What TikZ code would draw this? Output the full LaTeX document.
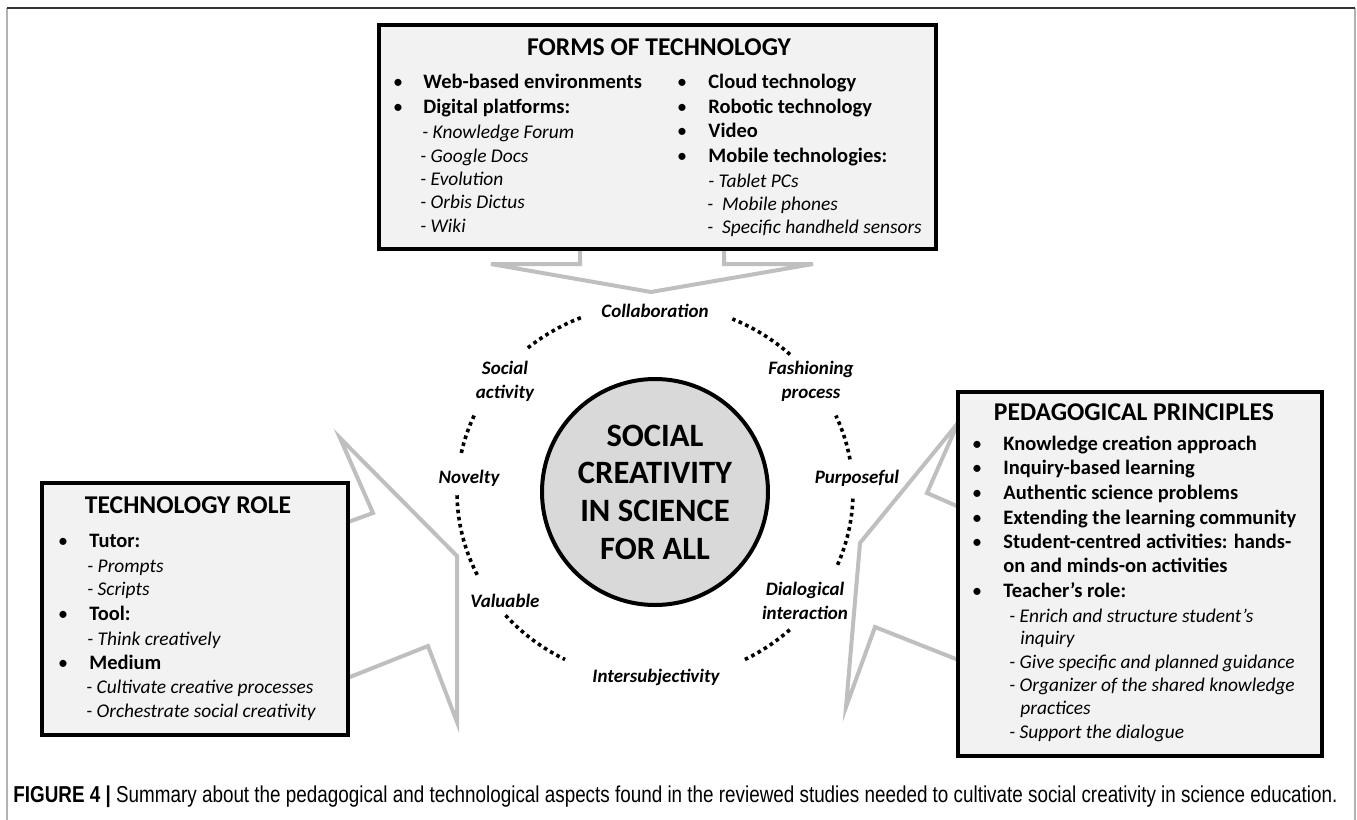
\documentclass[tikz,border=0pt]{standalone}
\usepackage{fontspec}
\setmainfont{Carlito}
\newfontfamily\capfont[FakeStretch=0.82]{Liberation Sans}
\definecolor{panelfill}{HTML}{F2F2F2}
\definecolor{hubfill}{HTML}{D9D9D9}
\definecolor{arrowgray}{HTML}{BFBFBF}
\begin{document}
\begin{tikzpicture}[x=0.5pt, y=-0.5pt,
        panel/.style={draw, line width=2pt, fill=panelfill, anchor=north west, inner sep=0pt, outer sep=0pt},
        bigarrow/.style={draw=arrowgray, line width=2pt},
        ringdots/.style={line width=1.8pt, dash pattern=on 1.8pt off 1.8pt},
        heading/.style={inner sep=0pt, font=\fontsize{12.8}{15}\selectfont\bfseries},
        item/.style={anchor=base west, inner sep=0pt, font=\fontsize{10.25}{12}\selectfont\bfseries},
        sub/.style={anchor=base west, inner sep=0pt, font=\fontsize{9.7}{12}\selectfont\itshape},
        dot/.style={anchor=base, inner sep=0pt, font=\fontsize{10}{12}\selectfont},
        ringlabel/.style={align=center, inner sep=0pt, font=\fontsize{9.5}{12}\selectfont\bfseries\itshape}]
        \useasboundingbox (0,0) rectangle (1357,820);

        %Frame
        \draw[gray!60, line width=1pt] (7,830) -- (7,8);
        \draw[gray!60, line width=1pt] (1355,8) -- (1355,830);
        \draw[black!80, line width=1pt] (7,8) -- (1355,8);

        %Big arrows
        \draw[bigarrow] (580,240) -- (580,264) -- (491,264) -- (651,292) -- (813,264) -- (724,264) -- (724,240);
        \draw[bigarrow] (340,525) -- (373,513) -- (340,438) -- (457,556) -- (457,722) -- (428,646) -- (340,681);
        \draw[bigarrow] (966,510) -- (927,493) -- (958,423) -- (860,543) -- (846,707) -- (875,627) -- (966,663);

        %Panels
        \node[panel, minimum width=278.5pt, minimum height=112pt] (forms) at (379,25) {};
        \node[panel, minimum width=153pt, minimum height=126pt] (role) at (42,483) {};
        \node[panel, minimum width=182pt, minimum height=182pt] (principles) at (958,392) {};

        %Centre
        \node[circle, draw, line width=2pt, fill=hubfill, minimum size=113pt, inner sep=0pt, align=center,
              font=\fontsize{16.3}{18.85}\selectfont\bfseries] (hub) at (655,492) {SOCIAL\\CREATIVITY\\IN SCIENCE\\FOR ALL};

        %Dotted ring
        \draw[ringdots] (hub.center) ++(-112:198 and 188) arc[start angle=-112, end angle=-131, x radius=198, y radius=188];
        \draw[ringdots] (hub.center) ++(-47:198 and 188) arc[start angle=-47, end angle=-67, x radius=198, y radius=188];
        \draw[ringdots] (hub.center) ++(-156:198 and 188) arc[start angle=-156, end angle=-169, x radius=198, y radius=188];
        \draw[ringdots] (hub.center) ++(-181:198 and 188) arc[start angle=-181, end angle=-207, x radius=198, y radius=188];
        \draw[ringdots] (hub.center) ++(-221:198 and 188) arc[start angle=-221, end angle=-243, x radius=198, y radius=188];
        \draw[ringdots] (hub.center) ++(-297:198 and 188) arc[start angle=-297, end angle=-313, x radius=198, y radius=188];
        \draw[ringdots] (hub.center) ++(2:198 and 188) arc[start angle=2, end angle=23, x radius=198, y radius=188];
        \draw[ringdots] (hub.center) ++(-10:198 and 188) arc[start angle=-10, end angle=-24, x radius=198, y radius=188];

        %Ring labels
        \node[ringlabel] (collab) at (655,311) {Collaboration};
        \node[ringlabel] (social) at (505,381) {Social\\activity};
        \node[ringlabel] (fashion) at (811,381) {Fashioning\\process};
        \node[ringlabel] (novelty) at (469,478) {Novelty};
        \node[ringlabel] (purpose) at (857,478) {Purposeful};
        \node[ringlabel] (valuable) at (505,601) {Valuable};
        \node[ringlabel] (dialog) at (805,601) {Dialogical\\interaction};
        \node[ringlabel] (intersub) at (656,677) {Intersubjectivity};

        %Forms of technology
        \node[heading] (formstitle) at (659,47) {FORMS OF TECHNOLOGY};
        \node[dot] (fb1) at (398,88) {\textbullet};
        \node[item] (f1) at (423,88) {Web-based environments};
        \node[dot] (fb2) at (398,113) {\textbullet};
        \node[item] (f2) at (423,113) {Digital platforms:};
        \node[sub] (f3) at (422,138) {- Knowledge Forum};
        \node[sub] (f4) at (420,162) {- Google Docs};
        \node[sub] (f5) at (420,185) {- Evolution};
        \node[sub] (f6) at (420,208) {- Orbis Dictus};
        \node[sub] (f7) at (420,232) {- Wiki};
        \node[dot] (gb1) at (682,88) {\textbullet};
        \node[item] (g1) at (708,88) {Cloud technology};
        \node[dot] (gb2) at (682,113) {\textbullet};
        \node[item] (g2) at (708,113) {Robotic technology};
        \node[dot] (gb3) at (682,137) {\textbullet};
        \node[item] (g3) at (708,137) {Video};
        \node[dot] (gb4) at (682,162) {\textbullet};
        \node[item] (g4) at (708,162) {Mobile technologies:};
        \node[sub] (g5) at (708,187) {- Tablet PCs};
        \node[sub] (g6) at (707,210) {-\ \ Mobile phones};
        \node[sub] (g7) at (707,233) {-\ \ Specific handheld sensors};

        %Technology role
        \node[heading] (roletitle) at (188,505) {TECHNOLOGY ROLE};
        \node[dot] (rb1) at (63,547) {\textbullet};
        \node[item] (r1) at (89,547) {Tutor:};
        \node[sub] (r2) at (87,572) {- Prompts};
        \node[sub] (r3) at (87,595) {- Scripts};
        \node[dot] (rb4) at (63,620) {\textbullet};
        \node[item] (r4) at (89,620) {Tool:};
        \node[sub] (r5) at (87,645) {- Think creatively};
        \node[dot] (rb6) at (63,669) {\textbullet};
        \node[item] (r6) at (89,669) {Medium};
        \node[sub] (r7) at (86,693) {- Cultivate creative processes};
        \node[sub] (r8) at (86,717) {- Orchestrate social creativity};

        %Pedagogical principles
        \node[heading] (princtitle) at (1134,412) {PEDAGOGICAL PRINCIPLES};
        \node[dot] (pb1) at (977,450) {\textbullet};
        \node[item] (p1) at (1003,450) {Knowledge creation approach};
        \node[dot] (pb2) at (977,474) {\textbullet};
        \node[item] (p2) at (1003,474) {Inquiry-based learning};
        \node[dot] (pb3) at (977,499) {\textbullet};
        \node[item] (p3) at (1003,499) {Authentic science problems};
        \node[dot] (pb4) at (977,524) {\textbullet};
        \node[item] (p4) at (1003,524) {Extending the learning community};
        \node[dot] (pb5) at (977,548) {\textbullet};
        \node[item] (p5) at (1003,548) {Student-centred activities: hands-};
        \node[item] (p6) at (1003,572) {on and minds-on activities};
        \node[dot] (pb7) at (977,597) {\textbullet};
        \node[item] (p7) at (1003,597) {Teacher’s role:};
        \node[sub] (p8) at (1009,622) {- Enrich and structure student’s};
        \node[sub] (p9) at (1020,644) {inquiry};
        \node[sub] (p10) at (1009,668) {- Give specific and planned guidance};
        \node[sub] (p11) at (1009,691) {- Organizer of the shared knowledge};
        \node[sub] (p12) at (1020,714) {practices};
        \node[sub] (p13) at (1009,738) {- Support the dialogue};

        %Caption
        \node[anchor=west, inner sep=0pt, font=\capfont\fontsize{11.5}{13}\selectfont] (caption) at (13,797)
            {\textbf{FIGURE 4 |} Summary about the pedagogical and technological aspects found in the reviewed studies needed to cultivate social creativity in science education.};
\end{tikzpicture}
\end{document}
